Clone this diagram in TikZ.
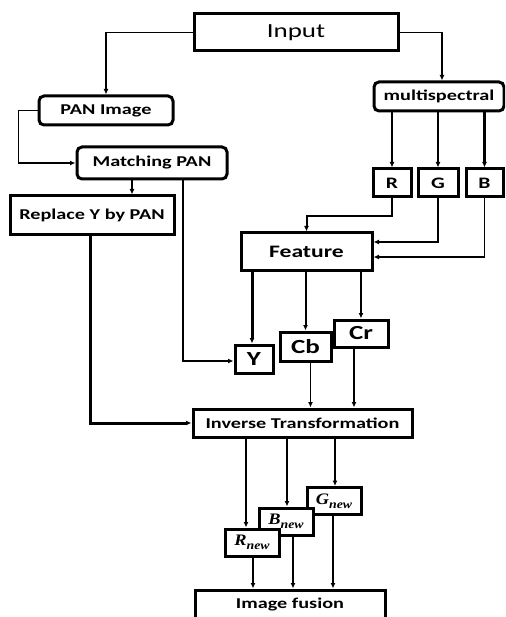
\documentclass[tikz,border=0pt]{standalone}
\usepackage{fontspec}
\setmainfont{Carlito}[FakeStretch=1.35]
\newfontfamily\bandfont{Liberation Serif}[FakeStretch=1.15]
\usetikzlibrary{arrows.meta}

\newcommand{\bandnew}[1]{{\bandfont\bfseries\itshape\fontsize{16}{18}\selectfont #1\raisebox{-4pt}{\fontsize{12}{13}\selectfont new}}}

\tikzset{
  box/.style={draw, line width=3pt, fill=white, inner sep=0pt,
    font=\bfseries\fontsize{15}{17}\selectfont},
  rbox/.style={box, rounded corners=5pt},
  link/.style={line width=1.5pt, -{Latex[length=5.5pt,width=5pt]}},
}

\begin{document}
\begin{tikzpicture}[x=1pt, y=-1pt]
  \useasboundingbox (0,0) rectangle (505,617);
  \clip (0,0) rectangle (505,617);

  % top row
  \node[box, font=\fontsize{20}{22}\selectfont, minimum width=204, minimum height=37] (input) at (296,32.5) {Input};
  \node[rbox, minimum width=134, minimum height=29] (pan) at (106,110.5) {PAN Image};
  \node[rbox, minimum width=130, minimum height=29] (ms) at (439,96.5) {multispectral};
  \node[rbox, minimum width=150, minimum height=32] (match) at (152,163) {Matching PAN};
  \node[box, minimum width=164, minimum height=39] (repl) at (92,215.5) {Replace Y by PAN};

  % bands
  \foreach \name/\x/\w in {R/392/38, G/438/40, B/484.5/37} {
    \node[box, font=\bfseries\fontsize{16}{18}\selectfont, minimum width=\w, minimum height=28] (\name) at (\x,183) {\name};
    \draw[link, line width=2.4pt] (ms.south -| \name.north) -- (\name.north);
  }
  \node[box, font=\bfseries\fontsize{17.5}{19}\selectfont, minimum width=131, minimum height=37] (feat) at (306.5,251.5) {Feature};

  % components
  \node[box, font=\bfseries\fontsize{20}{22}\selectfont, minimum width=38, minimum height=28] (Y) at (254,359) {Y};
  \node[box, font=\bfseries\fontsize{20}{22}\selectfont, minimum width=51, minimum height=29] (Cb) at (305.5,346.5) {Cb};
  \node[box, font=\bfseries\fontsize{20}{22}\selectfont, minimum width=54, minimum height=27] (Cr) at (361,333.5) {Cr};
  \node[box, minimum width=219, minimum height=28] (inv) at (302.5,423) {Inverse Transformation};

  % new bands
  \foreach \name/\lab/\x/\y in {Gn/G/334/501, Bn/B/286/521.5, Rn/R/252/542.5} {
    \node[box, minimum width=54, minimum height=27] (\name) at (\x,\y) {\bandnew{\lab}};
  }
  \node[box, minimum width=190, minimum height=30] (fus) at (290,605) {Image fusion};

  % links
  \draw[link, line width=1.3pt] (input.west) -| (pan.north);
  \draw[link, line width=1.3pt] (input.east) -| ([xshift=3]ms.north);
  \draw[link] (pan.west) -- ++(-19,0) |- (match.west);
  \draw[link, line width=2pt] ([xshift=-20]match.south) -- ([xshift=-20]match.south |- repl.north);
  \draw[link] ([xshift=31]match.south) |- ([yshift=-2]Y.west);
  \draw[link, line width=3pt] ([xshift=-2]repl.south) |- (inv.west);
  \draw[link, line width=2pt] (R.south) -- ++(0,18) -| (feat.north);
  \draw[link] (G.south) |- ([yshift=9.5]feat.east);
  \draw[link] (B.south) |- ([yshift=-5.5]feat.east);
  \draw[link, line width=3pt] ([xshift=-2]Y.north |- feat.south) -- ([xshift=-2]Y.north);
  \draw[link, line width=2pt] (Cb.north |- feat.south) -- (Cb.north);
  \draw[link, line width=2pt] (Cr.north |- feat.south) -- (Cr.north);
  \draw[link] ([xshift=5]Cb.south) -- ([xshift=5]Cb.south |- inv.north);
  \draw[link] ([xshift=-7]Cr.south) -- ([xshift=-7]Cr.south |- inv.north);
  \draw[link, line width=2pt] ([xshift=-6]Rn.north |- inv.south) -- ([xshift=-6]Rn.north);
  \draw[link, line width=2.4pt] ([xshift=1]Bn.north |- inv.south) -- ([xshift=1]Bn.north);
  \draw[link] ([xshift=1]Gn.north |- inv.south) -- ([xshift=1]Gn.north);
  \draw[link, line width=2.4pt] ([xshift=1]Rn.south) -- ([xshift=1]Rn.south |- fus.north);
  \draw[link, line width=2.4pt] ([xshift=7]Bn.south) -- ([xshift=7]Bn.south |- fus.north);
  \draw[link, line width=2pt] ([xshift=-1]Gn.south) -- ([xshift=-1]Gn.south |- fus.north);
\end{tikzpicture}
\end{document}
